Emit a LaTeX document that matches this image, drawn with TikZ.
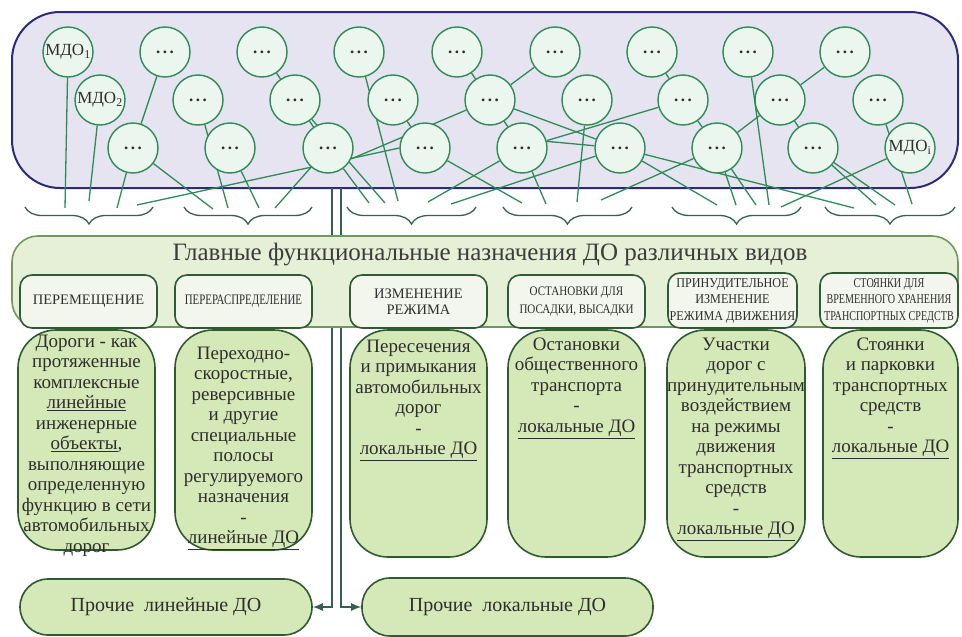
\documentclass[tikz,border=0pt]{standalone}
\usepackage{fontspec}
\setmainfont{Liberation Serif}
\newfontfamily\narrowA[FakeStretch=0.75]{Liberation Serif}
\newfontfamily\narrowB[FakeStretch=0.85]{Liberation Serif}
\newfontfamily\narrowC[FakeStretch=0.9]{Liberation Serif}
\usetikzlibrary{arrows.meta,positioning,decorations.pathreplacing}

\definecolor{mdofill}{HTML}{E7E4F1}
\definecolor{mdoline}{HTML}{2B2B7B}
\definecolor{circfill}{HTML}{EAF6EE}
\definecolor{circline}{HTML}{2E8B57}
\definecolor{wirecol}{HTML}{2E8B57}
\definecolor{bracecol}{HTML}{35604F}
\definecolor{funcfill}{HTML}{E6F0D6}
\definecolor{funcline}{HTML}{6E9A5E}
\definecolor{headfill}{HTML}{F2F6EC}
\definecolor{boxline}{HTML}{2F5A32}
\definecolor{bodyfill}{HTML}{D5E8B7}
\definecolor{txt}{HTML}{2E2E2E}
\definecolor{titlecol}{HTML}{3C3C3C}

\pgfdeclarelayer{bg}
\pgfdeclarelayer{wires}
\pgfsetlayers{bg,wires,main}

\newcommand{\dd}{\textbf{.\hspace{2.6pt}.\hspace{2.6pt}.}}
\newcommand{\coltext}[3]{\parbox[c][#1][t]{120pt}{\vspace*{#2}\makebox[120pt]{\begin{tabular}[t]{@{}c@{}}#3\end{tabular}}}}

\begin{document}
\begin{tikzpicture}[x=1pt,y=-1pt,
    mdobox/.style={draw=mdoline,fill=mdofill,line width=2pt,rounded corners=48pt,minimum width=946pt,minimum height=176pt},
    mdo/.style={circle,draw=circline,fill=circfill,line width=1.4pt,minimum size=50pt,inner sep=0pt,font=\fontsize{17}{17}\selectfont,text=txt},
    wire/.style={draw=wirecol,line width=1.3pt},
    brc/.style={decorate,decoration={brace,mirror,amplitude=17pt},draw=bracecol,line width=1.3pt},
    trunk/.style={draw=bracecol,line width=1.3pt},
    arrow/.style={trunk,-{Latex[length=10pt,width=8pt]}},
    funcbox/.style={draw=funcline,fill=funcfill,line width=1.6pt,rounded corners=26pt,minimum width=946pt,minimum height=91pt},
    headbox/.style={draw=boxline,fill=headfill,line width=1.6pt,rounded corners=12pt,minimum height=53pt,inner xsep=0pt,align=center,text=txt},
    bodybox/.style={draw=boxline,fill=bodyfill,line width=1.6pt,rounded corners=38pt,inner sep=0pt,text=txt,font=\fontsize{19}{20.5}\selectfont},
    restbox/.style={draw=boxline,fill=bodyfill,line width=1.6pt,rounded corners=28pt,text=txt,font=\fontsize{20}{22}\selectfont}
]
\useasboundingbox (0,0) rectangle (962,637);

\begin{pgfonlayer}{bg}
    \node[mdobox] (mdo) at (485,100) {};
\end{pgfonlayer}

\node[mdo] (t1) at (68,52) {\makebox[0pt]{МДО\textsubscript{1}}};
\foreach \n/\x in {2/165,3/262,4/359,5/457,6/555,7/652,8/748,9/845}
    \node[mdo] (t\n) at (\x,52) {\dd};
\node[mdo] (m1) at (100,100) {\makebox[0pt]{МДО\textsubscript{2}}};
\foreach \n/\x in {2/198,3/295,4/393,5/490,6/587,7/683,8/780,9/878}
    \node[mdo] (m\n) at (\x,100) {\dd};
\foreach \n/\x in {1/133,2/230,3/328,4/425,5/522,6/620,7/717,8/813}
    \node[mdo] (b\n) at (\x,148) {\dd};
\node[mdo] (b9) at (910,148) {\makebox[0pt]{МДО\textsubscript{i}}};

\foreach \n/\x/\y in {1/65/208,2/89/201,3/117/208,4/137/205,5/213/209,6/228/208,7/259/208,8/275/208,
    9/369/203,10/385/203,11/398/201,12/428/202,13/451/204,14/522/203,15/546/204,16/577/202,17/601/200,
    18/717/205,19/736/205,20/756/205,21/769/205,22/781/207,23/854/208,24/876/205,25/895/205,26/912/204}
    \coordinate (e\n) at (\x,\y);

\begin{pgfonlayer}{wires}
    \foreach \a/\b in {t1/e1,m1/e2,b1/e3,b4.west/e4,b1/e5,m2/e6,b2/e7,b3/e8,b3/e9,m3/e10,t4/e11,b5/e12,b6/e13,
        b4/e14,b5/e15,m6/e16,b7/e17,b6/e18,b7/e19,b7/e20,t8/e21,b9/e22,b6/e23,b8/e24,b8/e25,m9/e26,
        t2/b1,t3/m3,m3/b3,b3.-25/m5,m4/b4,t5/m5,t6/m5,m5/b5,m5/b6,b5.15/b6.175,b5/m7,t7/m7,m7/b7,b7/m8,m8/t9,m8/b8}
        \draw[wire] (\a) -- (\b);
\end{pgfonlayer}

\foreach \a/\b in {25/153,184/312,347/476,503/632,672/801,825/955}
    \draw[brc] (\a,207) -- (\b,207);

\coordinate (vl) at (332,188);
\coordinate (vr) at (341,188);

\node[funcbox] (func) at (485,281.5) {};
\node[font=\fontsize{25}{27}\selectfont,text=titlecol] (title) at (490,255) {Главные функциональные назначения ДО различных видов};

\node[headbox,minimum width=137pt,font=\fontsize{14.5}{16}\selectfont] (h1) at (88.5,301.5) {ПЕРЕМЕЩЕНИЕ};
\node[headbox,minimum width=137pt,font=\narrowA\fontsize{14.5}{16}\selectfont] (h2) at (243.5,301.5) {ПЕРЕРАСПРЕДЕЛЕНИЕ};
\node[headbox,minimum width=137pt,font=\fontsize{14.5}{16}\selectfont] (h3) at (418.5,301.5) {ИЗМЕНЕНИЕ\\РЕЖИМА};
\node[headbox,minimum width=137pt,font=\narrowB\fontsize{13}{18}\selectfont] (h4) at (576.5,301.5) {ОСТАНОВКИ ДЛЯ\\ПОСАДКИ, ВЫСАДКИ};
\node[headbox,minimum width=129pt,minimum height=55pt,font=\narrowC\fontsize{13.5}{16.5}\selectfont] (h5) at (732.5,300.5) {ПРИНУДИТЕЛЬНОЕ\\ИЗМЕНЕНИЕ\\РЕЖИМА ДВИЖЕНИЯ};
\node[headbox,minimum width=138pt,minimum height=55pt,font=\narrowA\fontsize{13.5}{16.5}\selectfont] (h6) at (889,300.5) {СТОЯНКИ ДЛЯ\\ВРЕМЕННОГО ХРАНЕНИЯ\\ТРАНСПОРТНЫХ СРЕДСТВ};

\node[bodybox,minimum width=137pt,minimum height=220pt] (d1) at (86.5,440) {\coltext{220pt}{3pt}{Дороги - как\\протяженные\\комплексные\\\underline{линейные}\\инженерные\\\underline{объекты},\\выполняющие\\определенную\\функцию в сети\\автомобильных\\дорог}};
\node[bodybox,minimum width=137pt,minimum height=220pt] (d2) at (243.5,440) {\coltext{220pt}{15pt}{Переходно-\\скоростные,\\реверсивные\\и другие\\специальные\\полосы\\регулируемого\\назначения\\-\\\underline{линейные ДО}}};
\node[bodybox,minimum width=137pt,minimum height=227pt] (d3) at (418.5,443.5) {\coltext{227pt}{8pt}{Пересечения\\и примыкания\\автомобильных\\дорог\\-\\\underline{локальные ДО}}};
\node[bodybox,minimum width=137pt,minimum height=227pt] (d4) at (576.5,443.5) {\coltext{227pt}{6pt}{Остановки\\общественного\\транспорта\\-\\\underline{локальные ДО}}};
\node[bodybox,minimum width=138pt,minimum height=227pt] (d5) at (736,443.5) {\coltext{227pt}{6pt}{Участки\\дорог с\\принудительным\\воздействием\\на режимы\\движения\\транспортных\\средств\\-\\\underline{локальные ДО}}};
\node[bodybox,minimum width=135pt,minimum height=227pt] (d6) at (890.5,443.5) {\coltext{227pt}{6pt}{Стоянки\\и парковки\\транспортных\\средств\\-\\\underline{локальные ДО}}};

\node[restbox,minimum width=292pt,minimum height=56pt] (r1) at (166,607) {Прочие~ линейные ДО};
\node[restbox,minimum width=291pt,minimum height=58pt] (r2) at (507.5,607) {Прочие~ локальные ДО};

\begin{pgfonlayer}{bg}
    \draw[arrow] (vl) |- (r1);
    \draw[arrow] (vr) |- (r2);
\end{pgfonlayer}
\end{tikzpicture}
\end{document}
